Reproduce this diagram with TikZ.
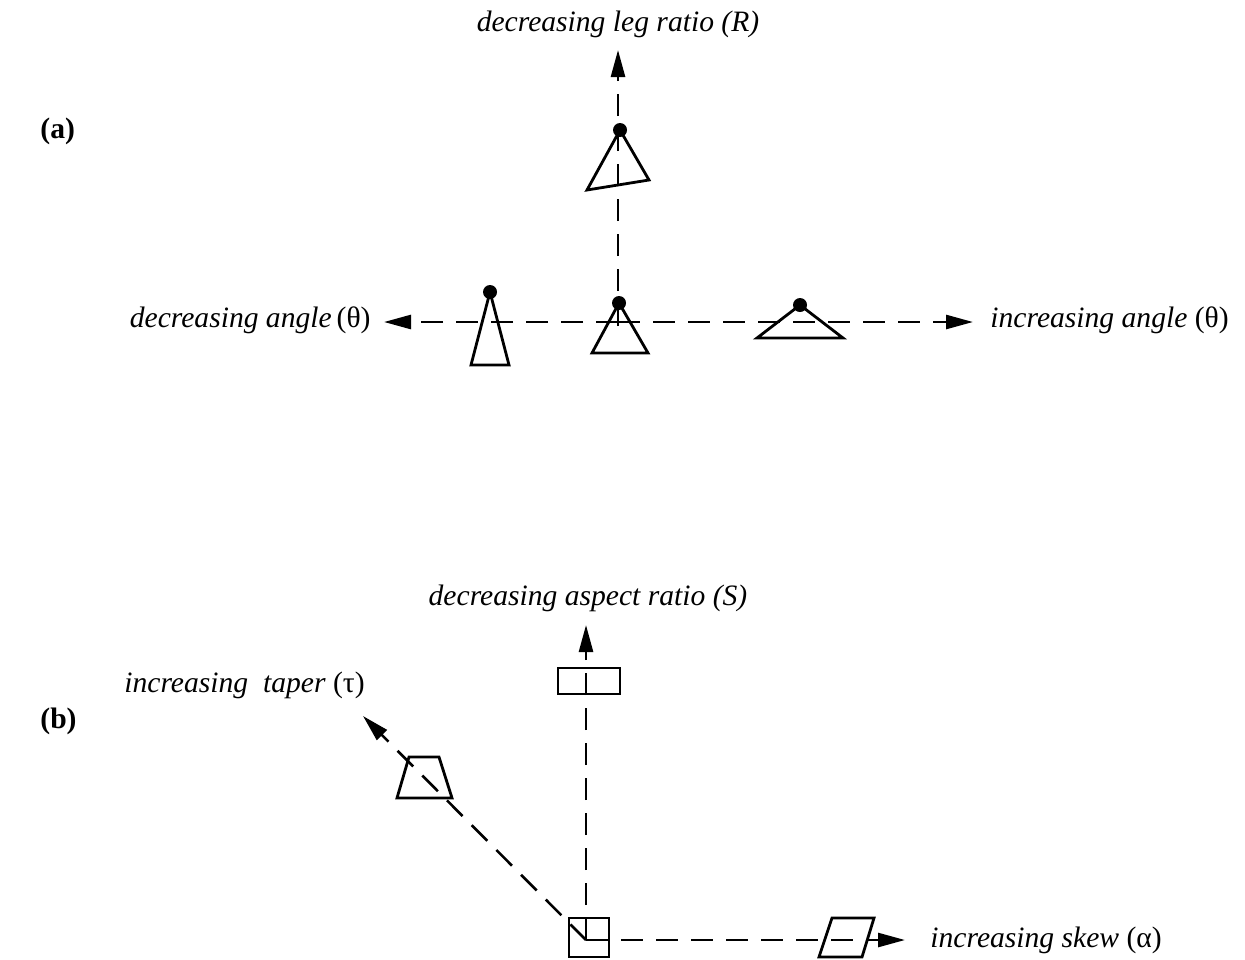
\documentclass[tikz,border=0pt]{standalone}
\usepackage{fontspec}
\setmainfont{Liberation Serif}
\usetikzlibrary{arrows.meta,positioning}

\begin{document}
\begin{tikzpicture}[x=0.5pt,y=-0.5pt,
    axis/.style={line width=1.3pt, dash pattern=on 11pt off 6.5pt,
        -{Triangle[length=13.5pt,width=7pt]}},
    outline/.style={line width=1.4pt, line join=miter},
    dot/.style={circle, fill, inner sep=0pt, minimum size=7pt},
    lbl/.style={font=\fontsize{14.8}{18}\selectfont\itshape, inner sep=0pt},
    part/.style={font=\fontsize{14.8}{18}\selectfont\bfseries, inner sep=0pt}]
\useasboundingbox (0,0) rectangle (1245,959);

% (a) triangles
\node[part, anchor=base west] (pa) at (40,138) {(a)};
\node[lbl, anchor=base] (legratio) at (618,31) {decreasing leg ratio (R)};
\node[lbl, anchor=base east] (decangle) at (371,327) {decreasing angle\,\textup{(θ)}};
\node[lbl, anchor=base west] (incangle) at (990,327) {increasing angle \textup{(θ)}};
\coordinate (ca) at (618,322);
\coordinate (cv) at (618,326);
\coordinate (tipup) at (618,50);
\coordinate (tipleft) at (384,322);
\coordinate (tipright) at (973,322);

\draw[axis] (cv) -- (tipup);
\draw[axis] (ca) -- (tipleft);
\draw[axis] (ca) -- (tipright);

\draw[outline] (620,130) -- (587,190) -- (649,180) -- cycle;
\draw[outline] (490,292) -- (471,365) -- (509,365) -- cycle;
\draw[outline] (619,303) -- (592,353) -- (648,353) -- cycle;
\draw[outline] (800,305) -- (757,338) -- (843,338) -- cycle;
\foreach \p [count=\k] in {(620,130),(490,292),(619,303),(800,305)}
    \node[dot] (apex\k) at \p {};

% (b) quadrilaterals
\node[part, anchor=base west] (pb) at (40,728) {(b)};
\node[lbl, anchor=base] (aspect) at (588,605) {decreasing aspect ratio (S)};
\node[lbl, anchor=base west] (taper) at (124,692) {increasing\ \ taper \textup{(τ)}};
\node[lbl, anchor=base west] (skew) at (930,947) {increasing skew \textup{(α)}};
\coordinate (cb) at (586,940);
\coordinate (tipaspect) at (586,625);
\coordinate (tiptaper) at (363,716);
\coordinate (tipskew) at (905,940);

\draw[axis] (cb) -- (tipaspect);
\draw[axis] (cb) -- (tiptaper);
\draw[axis] (cb) -- (tipskew);

\draw[outline] (569,918) rectangle (609,957);
\draw[outline] (558,668) rectangle (620,694);
\draw[outline] (409,757) -- (439,757) -- (452,798) -- (397,798) -- cycle;
\draw[outline] (832,918) -- (874,918) -- (862,957) -- (819,957) -- cycle;

\end{tikzpicture}
\end{document}
